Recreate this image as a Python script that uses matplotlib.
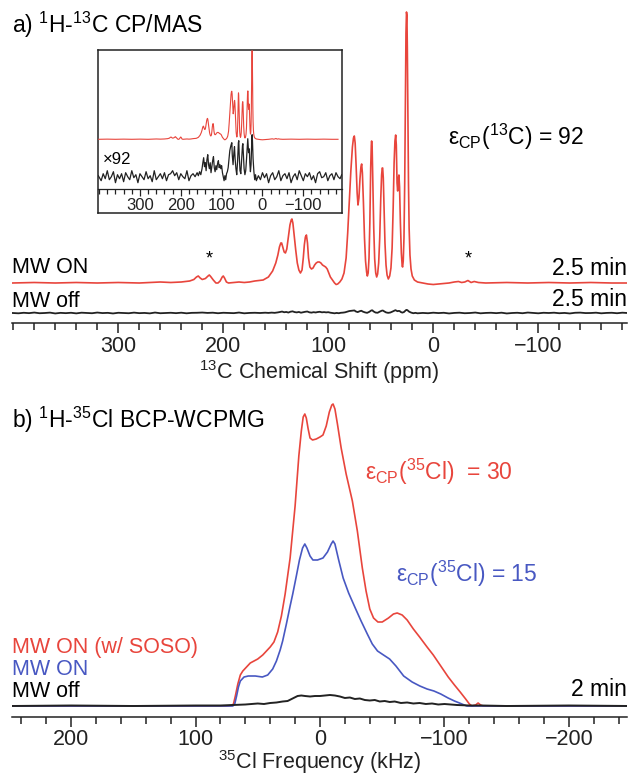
import numpy as np
import matplotlib
matplotlib.use("Agg")
import matplotlib.pyplot as plt
from matplotlib.ticker import MultipleLocator, FixedLocator

plt.rcParams['font.family'] = ['Liberation Sans', 'DejaVu Sans']
plt.rcParams['mathtext.fontset'] = 'custom'
plt.rcParams['mathtext.rm'] = 'Liberation Sans'
plt.rcParams['mathtext.it'] = 'Liberation Sans:italic'
plt.rcParams['mathtext.bf'] = 'Liberation Sans:bold'

RED = '#e8453c'
BLUE = '#4858c2'
DARK = '#222222'

# tick labels shown on each axis
c13_labels = [300, 200, 100, 0, -100]
cl35_labels = [200, 100, 0, -100, -200]

# ---- 13C CP/MAS, MW ON: (ppm, height) ----
c13_mw_on = [
    (401, 0), (380, 0.5), (360, 0), (340, 0.5), (320, 0), (300, 0.5), (280, 0),
    (260, 1), (250, 0.5), (240, 1), (232, 2), (228, 3.5), (225.5, 6), (223.8, 7),
    (222, 5), (220, 3.5), (217, 4.5), (214.5, 7), (213.3, 8), (212, 6.5),
    (209.5, 3), (207, 0), (205, 0), (203, 2), (201, 6), (200, 7), (198.8, 5),
    (197, 1), (195, 0), (190, 0.5), (185, 1), (180, 0.5), (175, 1), (170, 2),
    (162, 3), (157, 6), (153, 12), (150, 20), (148, 28), (146.5, 36), (145.2, 40),
    (144.4, 40), (143.3, 36), (142, 31), (140.8, 30), (139.5, 34), (138, 46),
    (136.5, 58), (135.3, 63), (134.6, 64), (133.7, 60), (132.5, 48), (131, 33),
    (129.5, 20), (128, 13), (126.5, 10), (125, 13), (123.8, 25), (122.8, 38),
    (121.8, 46), (120.8, 48), (119.8, 40), (118.8, 25), (117.5, 16), (116, 14),
    (114.5, 15), (113, 18), (111.5, 20), (110, 21), (108.5, 21), (107, 20),
    (105.5, 18), (104, 17), (102.5, 16), (101, 14), (99.5, 10), (98, 6),
    (96, 3), (94, 0), (92.5, -1.5), (91, -1), (89, 1), (87, 4), (85, 10),
    (83, 25), (81.5, 50), (80, 80), (78.5, 112), (77, 136), (76, 145), (75.2, 147),
    (74.4, 140), (73.5, 118), (72.5, 90), (71.7, 78), (70.8, 85), (69.8, 104),
    (68.9, 116), (68.2, 119), (67.5, 110), (66.5, 80), (65.5, 45), (64.5, 22),
    (63.5, 11), (62.8, 7), (62, 10), (61.2, 25), (60.4, 60), (59.6, 115),
    (59, 138), (58.7, 142), (58.2, 135), (57.5, 100), (56.7, 55), (55.8, 24),
    (54.8, 10), (53.9, 6), (53, 9), (52, 20), (51, 45), (50, 85), (49.2, 108),
    (48.6, 115), (48.2, 115), (47.6, 105), (46.8, 72), (46, 40), (45, 18),
    (44, 8), (42.8, 4), (41.5, 7), (40.3, 15), (39.2, 35), (38.2, 75),
    (37.3, 120), (36.5, 142), (35.8, 148), (35.2, 138), (34.5, 100), (33.9, 92),
    (33.3, 104), (32.7, 108), (32.1, 96), (31.3, 60), (30.4, 30), (29.6, 17),
    (29.2, 16), (28.6, 22), (27.9, 45), (27.2, 100), (26.5, 190), (26, 250),
    (25.5, 271), (25.1, 268), (24.7, 235), (24.2, 170), (23.6, 100), (23, 55),
    (22.2, 28), (21.2, 14), (20, 7), (18, 3), (15, 1), (10, 0), (5, -1),
    (0, -1.5), (-5, -1), (-10, -0.5), (-15, 0), (-20, 1), (-24, 1.5), (-27, 0.5),
    (-30, 1), (-33, 2.5), (-36, 0.5), (-39, 1.5), (-43, 0.5), (-50, 0),
    (-70, 0.5), (-90, 0), (-110, 0.5), (-130, 0), (-150, 0.5), (-170, 0), (-185, 0),
]

# ---- 13C CP/MAS, MW off, as drawn x92 in the inset ----
c13_mw_off_x92 = [
    (402, 1), (395, -4), (390, 3), (385, -2), (380, 6), (375, -3), (370, 0),
    (365, 5), (360, -6), (355, 2), (350, -2), (345, 3), (340, -5), (335, 4),
    (330, 0), (325, -3), (320, 6), (315, -1), (310, 2), (305, -6), (300, 3),
    (295, 0), (290, -3), (285, 5), (280, -2), (275, 1), (270, -5), (265, 6),
    (260, -3), (255, 0), (250, 3), (245, -2), (240, 4), (235, -4), (230, 2),
    (225, 3), (220, 6), (215, 1), (210, 4), (205, -3), (200, 3), (195, 0),
    (190, -2), (185, 6), (180, -4), (175, 1), (170, 3), (165, 0), (160, 4),
    (157, 1), (154, 5), (151, 2), (148, 8), (146, 14), (144, 19), (142, 10),
    (140, 14), (138, 6), (136, 17), (134, 22), (132, 12), (130, 8), (128, 14),
    (126, 4), (124, 10), (122, 16), (120, 20), (118, 9), (116, 5), (114, 11),
    (112, 7), (110, 13), (108, 16), (106, 9), (104, 12), (102, 8), (100, 11),
    (98, 4), (96, 0), (94, -4), (92, 1), (90, -3), (88, 3), (86, 5), (84, 9),
    (82, 18), (80, 26), (78, 30), (76, 33), (75, 34), (74, 22), (72, 12),
    (70, 24), (68.5, 30), (67, 18), (65, 8), (63, 2), (61, 15), (59, 34),
    (58, 36), (57, 22), (55, 6), (53, 3), (51, 18), (49, 31), (48, 33),
    (47, 24), (45, 8), (43, 2), (41, 6), (39, 18), (37, 32), (36, 38),
    (35, 30), (34, 24), (33, 28), (32, 26), (31, 14), (29.5, 5), (28, 12),
    (27, 25), (26, 38), (25.3, 42), (24.5, 36), (23, 18), (21, 5), (19, -3),
    (17, 2), (15, -4), (10, 1), (5, -3), (0, 4), (-5, -1), (-10, 3), (-15, -6),
    (-20, 1), (-25, 4), (-30, -3), (-35, 0), (-40, 6), (-45, -4), (-50, 1),
    (-55, 3), (-60, -2), (-65, 4), (-70, -6), (-75, 0), (-80, 3), (-85, -3),
    (-90, 6), (-95, 1), (-100, -4), (-105, 3), (-110, 0), (-115, 4), (-120, -3),
    (-125, 1), (-130, -6), (-135, 3), (-140, 5), (-145, -1), (-150, 0),
    (-155, 4), (-160, -4), (-165, 1), (-170, 3), (-175, -3), (-180, 4),
    (-185, 0), (-190, -2), (-194, 2),
]

# ---- 35Cl BCP-WCPMG: (kHz, height) ----
cl35_soso = [
    (248, 0), (200, 0), (150, 0), (100, 0), (75, 0), (71, 0.5), (69.5, 2),
    (68, 10), (66, 22), (64, 31), (62, 35), (59, 39), (56, 43), (53, 45),
    (50, 47), (46, 51), (43, 55), (40, 59), (37, 64), (34, 74), (31, 90),
    (28, 112), (24, 148), (20, 200), (17, 250), (15, 275), (13.5, 289),
    (12.2, 292), (11, 288), (9.5, 277), (8, 268), (6, 266), (3, 267), (0, 269),
    (-2.4, 271), (-5, 280), (-7.5, 294), (-9.5, 301), (-10.5, 302), (-12, 297),
    (-14, 282), (-17, 258), (-21, 232), (-26, 205), (-30, 175), (-34, 138),
    (-37, 115), (-40, 97), (-43, 88), (-46.5, 84), (-50, 84), (-55, 88),
    (-59, 92), (-62, 93), (-66, 91), (-70, 86), (-75, 77), (-80, 69), (-86, 59),
    (-91, 51), (-97, 40), (-103, 29), (-108, 21), (-112.6, 14), (-117, 7),
    (-120, 2), (-122, 0), (-125, 1), (-127, 3), (-129, 1), (-131, 0),
    (-150, 0), (-200, 0), (-248, 0),
]
cl35_mw_on = [
    (248, 0), (200, 0), (150, 0), (100, 0), (70, 0), (68.5, 2), (67, 10),
    (65.5, 19), (64, 25), (61, 29), (57.6, 30), (52, 30), (46.3, 29), (42, 31),
    (38, 37), (35, 45), (32, 56), (30, 65), (27, 82), (24, 100), (21.9, 112),
    (19, 130), (16.5, 146), (14, 158), (12.2, 162), (10.5, 158), (8, 150),
    (5.7, 146), (2, 146), (-2.4, 148), (-6, 154), (-9, 162), (-10.5, 165),
    (-12, 162), (-15, 146), (-18.6, 128), (-23, 113), (-28.3, 98), (-33, 85),
    (-38, 72), (-42, 62), (-46.2, 55), (-51, 51), (-55.9, 47), (-61, 40),
    (-67.2, 30), (-74, 24), (-80.2, 20), (-86, 17), (-91.5, 15), (-97, 12),
    (-102.9, 8), (-108, 5), (-112, 3), (-115.9, 1), (-118, 0), (-200, 0), (-248, 0),
]
cl35_mw_off = [
    (248, 0), (200, 0.5), (150, 0), (100, 0.5), (80, 0.5), (70, 1), (60, 1.5),
    (55, 2), (50, 2.5), (45, 2), (40, 3), (35, 3.5), (30, 4.5), (26, 5),
    (22, 7.5), (18, 10), (15, 10.5), (12, 10), (8, 9.5), (4, 10), (0, 10),
    (-4, 10.5), (-8, 11), (-12, 10.5), (-16, 9.5), (-20, 8), (-24, 8.5),
    (-28, 7), (-32, 7.5), (-36, 6), (-40, 5.5), (-44, 6), (-48, 4.5), (-52, 5),
    (-56, 4), (-60, 4.5), (-65, 3), (-70, 3.5), (-75, 2.5), (-80, 3), (-85, 2),
    (-90, 2.5), (-95, 1.5), (-100, 2), (-110, 1), (-120, 0.5), (-130, 0.5),
    (-150, 0), (-200, 0.5), (-248, 0),
]

on13 = np.array(c13_mw_on)
off13 = np.array(c13_mw_off_x92)
soso = np.array(cl35_soso)
on35 = np.array(cl35_mw_on)
off35 = np.array(cl35_mw_off)

W, H = 633, 775
fig = plt.figure(figsize=(W / 100, H / 100), dpi=100)


def box(x0, y0, x1, y1):
    # pixel box (origin top-left) -> figure rect
    return [x0 / W, 1 - y1 / H, (x1 - x0) / W, (y1 - y0) / H]


def ftext(x, y, s, **kw):
    fig.text(x / W, 1 - y / H, s, va='baseline', **kw)


def spectrum_axis(ax, labels, size, maj_len, min_len, lw, pad=2):
    for side in ('left', 'right', 'top'):
        ax.spines[side].set_visible(False)
    ax.spines['bottom'].set_linewidth(lw)
    ax.spines['bottom'].set_color(DARK)
    ax.set_yticks([])
    ax.xaxis.set_major_locator(FixedLocator(labels))
    ax.xaxis.set_minor_locator(MultipleLocator(20))
    ax.tick_params(axis='x', which='major', length=maj_len, width=lw,
                   labelsize=size, pad=pad, colors=DARK)
    ax.tick_params(axis='x', which='minor', length=min_len, width=lw, colors=DARK)
    ax.patch.set_visible(False)


# ---------------- panel a ----------------
ax1 = fig.add_axes(box(12, 5, 627, 323.3))
ax1.plot(on13[:, 0], on13[:, 1] + 40.3, color=RED, lw=1.2)
ax1.plot(off13[:, 0], off13[:, 1] * 0.075 + 10.3, color=DARK, lw=1.3)
ax1.set_xlim(401.2, -184.5)
ax1.set_ylim(0, 318.3)
spectrum_axis(ax1, c13_labels, 15.5, 7.5, 5, 1.1, pad=1.5)
ax1.set_xlabel(r"$\mathregular{^{13}}$C Chemical Shift (ppm)", fontsize=15.5,
               labelpad=1, color=DARK)
ax1.text(213, 64, '*', ha='center', va='center', fontsize=13)
ax1.text(-33, 64, '*', ha='center', va='center', fontsize=13)

ftext(12, 33, r"a) $\mathregular{^1}$H-$\mathregular{^{13}}$C CP/MAS", fontsize=16.5)
ftext(12, 273, "MW ON", fontsize=15.5)
ftext(627, 275, "2.5 min", fontsize=16.5, ha='right')
ftext(12, 307, "MW off", fontsize=15.5)
ftext(627, 306, "2.5 min", fontsize=16.5, ha='right')
ftext(448, 144.5, r"$\mathregular{ε_{CP}(^{13}C)}$ = 92", fontsize=16.5)

# inset
frame = fig.add_axes(box(98.3, 50, 341.7, 212.7))
frame.set_xticks([])
frame.set_yticks([])
for s in frame.spines.values():
    s.set_linewidth(1.1)
    s.set_color(DARK)

ins = fig.add_axes(box(98.3, 50, 341.7, 189.3))
ins.plot(on13[:, 0], on13[:, 1] * 0.327 + 50, color=RED, lw=0.8)
ins.plot(off13[:, 0], off13[:, 1] + 12.6, color=DARK, lw=0.9)
ins.set_xlim(402, -194)
ins.set_ylim(0, 139.3)
spectrum_axis(ins, c13_labels, 12, 5, 3.5, 0.9, pad=1.5)
ftext(102.7, 163.5, "×92", fontsize=12)

# ---------------- panel b ----------------
ax2 = fig.add_axes(box(12, 388, 627, 717))
ax2.plot(soso[:, 0], soso[:, 1] + 11, color=RED, lw=1.2)
ax2.plot(on35[:, 0], on35[:, 1] + 11, color=BLUE, lw=1.2)
ax2.plot(off35[:, 0], off35[:, 1] + 11, color=DARK, lw=1.4)
ax2.set_xlim(247.4, -246.6)
ax2.set_ylim(0, 329)
spectrum_axis(ax2, cl35_labels, 15.5, 7.5, 5, 1.1, pad=1)
ax2.set_xlabel(r"$\mathregular{^{35}}$Cl Frequency (kHz)", fontsize=15.5,
               labelpad=-1, color=DARK)

ftext(12, 428, r"b) $\mathregular{^1}$H-$\mathregular{^{35}}$Cl BCP-WCPMG", fontsize=16.5)
ftext(365.5, 480, r"$\mathregular{ε_{CP}(^{35}Cl)}$  = 30", fontsize=16.5, color=RED)
ftext(395.5, 582, r"$\mathregular{ε_{CP}(^{35}Cl)}$ = 15", fontsize=16.5, color=BLUE)
ftext(12, 653, "MW ON (w/ SOSO)", fontsize=15.5, color=RED)
ftext(12, 675, "MW ON", fontsize=15.5, color=BLUE)
ftext(12, 697, "MW off", fontsize=15.5)
ftext(627, 696, "2 min", fontsize=16.5, ha='right')

fig.savefig("out.png", dpi=100)
